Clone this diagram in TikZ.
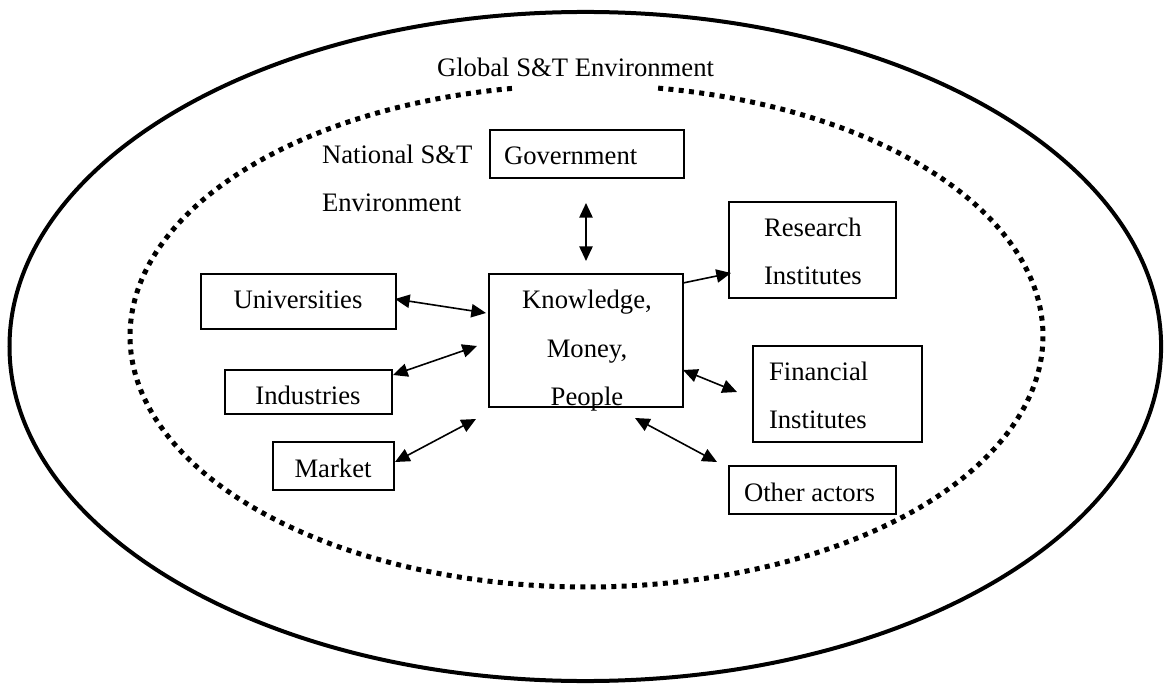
\documentclass[tikz,border=0pt]{standalone}
\usepackage{fontspec}
\setmainfont{Liberation Serif}
\usetikzlibrary{arrows.meta}
\begin{document}
\begin{tikzpicture}[x=0.75pt,y=-0.75pt,
  box/.style={draw, line width=1.3pt, inner sep=0pt, outer sep=0pt},
  lbl/.style={inner sep=0pt, outer sep=0pt, font=\fontsize{20}{24}\selectfont},
  tip/.style={Triangle[length=11pt,width=10pt]},
  twoway/.style={line width=1.2pt, {Triangle[length=11pt,width=10pt]}-{Triangle[length=11pt,width=10pt]}},
  oneway/.style={line width=1.2pt, -{Triangle[length=11pt,width=10pt]}},
  border/.style={line width=3pt},
  nationline/.style={line width=3.75pt, dash pattern=on 3.75pt off 4pt}]

% canvas
\fill[white] (0,0) rectangle (1167,684);
\useasboundingbox (0,0) rectangle (1167,684);

% global environment
\draw[border] (585.3,346.5) ellipse [x radius=431.85pt, y radius=250.9pt];
\node[lbl, anchor=base west] (global) at (437,77) {Global S\&T Environment};

% national environment (open at the top)
\draw[nationline] plot[domain=99.4:441.1, samples=260, smooth]
  ({586.5+456.5*cos(\x)}, {336-251*sin(\x)});
\node[lbl, anchor=base west] (nat1) at (322,164) {National S\&T};
\node[lbl, anchor=base west] (nat2) at (322,212) {Environment};

% actors
\node[box, minimum width=145.5pt,  minimum height=36pt]    (gov)  at (587,154)     {};
\node[box, minimum width=145.5pt,  minimum height=99.75pt] (know) at (586,340.5)   {};
\node[box, minimum width=146.25pt, minimum height=41.25pt] (univ) at (298.5,301.5) {};
\node[box, minimum width=125.25pt, minimum height=33pt]    (ind)  at (308.5,392)   {};
\node[box, minimum width=90.75pt,  minimum height=36pt]    (mkt)  at (333.5,466)   {};
\node[box, minimum width=125.25pt, minimum height=72pt]    (res)  at (812.5,250)   {};
\node[box, minimum width=126.75pt, minimum height=72pt]    (fin)  at (837.5,394)   {};
\node[box, minimum width=125.25pt, minimum height=36pt]    (oth)  at (812.5,490)   {};

% labels of the actors
\node[lbl, anchor=base west] (govt)  at (504,165) {Government};
\node[lbl, anchor=base]      (know1) at (587,308) {Knowledge,};
\node[lbl, anchor=base]      (know2) at (587,357) {Money,};
\node[lbl, anchor=base]      (know3) at (587,405) {People};
\node[lbl, anchor=base]      (univt) at (298,309) {Universities};
\node[lbl, anchor=base]      (indt)  at (308,404) {Industries};
\node[lbl, anchor=base]      (mktt)  at (333,477) {Market};
\node[lbl, anchor=base west] (res1)  at (764,237) {Research};
\node[lbl, anchor=base west] (res2)  at (764,285) {Institutes};
\node[lbl, anchor=base west] (fin1)  at (769,380) {Financial};
\node[lbl, anchor=base west] (fin2)  at (769,428) {Institutes};
\node[lbl, anchor=base west] (otht)  at (744,501) {Other actors};

% arrow ends
\coordinate (gA) at (586,203);  \coordinate (gB) at (586,261);
\coordinate (uA) at (395,299);  \coordinate (uB) at (486,313);
\coordinate (iA) at (393,375);  \coordinate (iB) at (477,346);
\coordinate (mA) at (395,462);  \coordinate (mB) at (476,419);
\coordinate (rA) at (683,283);  \coordinate (rB) at (731,273);
\coordinate (fA) at (683,370);  \coordinate (fB) at (737,392);
\coordinate (oA) at (635,418);  \coordinate (oB) at (717,462);

% flows
\draw[twoway] (gA) -- (gB);
\draw[twoway] (uA) -- (uB);
\draw[twoway] (iA) -- (iB);
\draw[twoway] (mA) -- (mB);
\draw[oneway] (rA) -- (rB);
\draw[twoway] (fA) -- (fB);
\draw[twoway] (oA) -- (oB);
\end{tikzpicture}
\end{document}
